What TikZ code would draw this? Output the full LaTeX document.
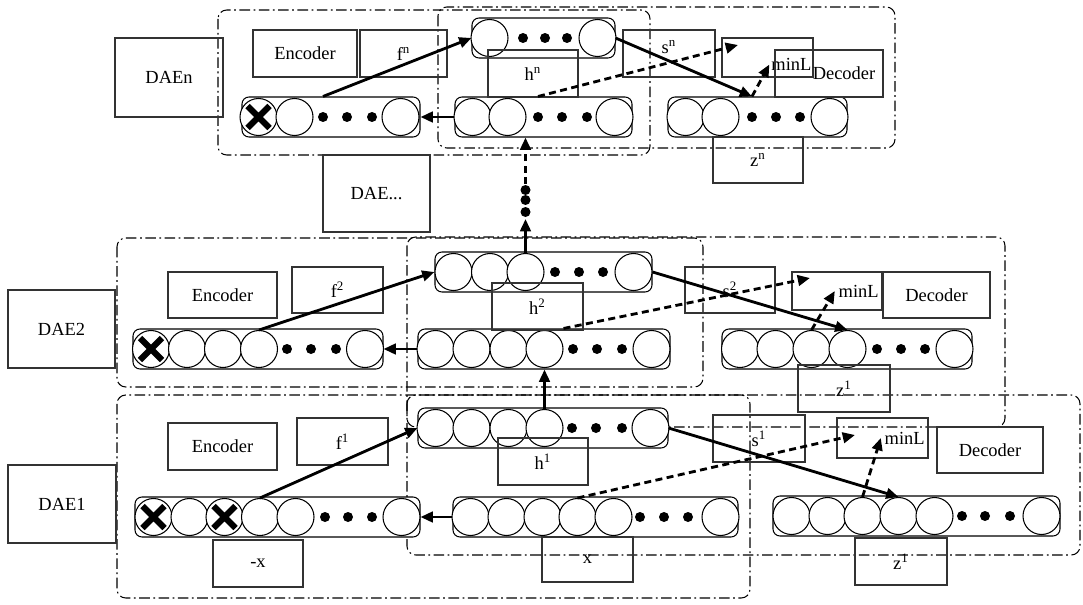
\documentclass[tikz,border=0pt]{standalone}
\usepackage{fontspec}
\setmainfont{Liberation Serif}
\usetikzlibrary{arrows.meta,fit,calc}

% one layer of units: name, left, right, centre line, circles, dots
\newcommand{\unitrow}[6]{%
  \node[layer, fit={(#2,#4-20) (#3,#4+20)}] (#1) {};
  \foreach \cx [count=\i] in {#5} \node[unit] (#1-\i) at (\cx,#4) {};
  \foreach \dx [count=\i] in {#6} \node[dotu] (#1-d\i) at (\dx,#4) {};
}
% text box: name, left, top, right, bottom, text
\newcommand{\tagbox}[6]{%
  \node[lbl, minimum width={(#4-#2)*0.02cm}, minimum height={(#5-#3)*0.02cm}]
    (#1) at ({(#2+#4)/2},{(#3+#5)/2}) {#6};
}

\begin{document}
\begin{tikzpicture}[x=0.02cm,y=-0.02cm,
  font=\fontsize{10.5}{12}\selectfont,
  stage/.style={line width=0.6pt, dash pattern=on 6pt off 2pt on 1pt off 2pt, rounded corners=5pt},
  lbl/.style={draw=black!80, line width=0.6pt, inner sep=0pt},
  layer/.style={draw, fill=white, line width=0.6pt, rounded corners=4pt, inner sep=0pt},
  unit/.style={circle, draw, fill=white, line width=0.6pt, minimum size=0.74cm, inner sep=0pt},
  dotu/.style={circle, fill, minimum size=0.2cm, inner sep=0pt},
  cross/.style={line width=3.5pt},
  flow/.style={-{Triangle[length=7pt,width=6pt]}, line width=1.6pt},
  cost/.style={flow, dash pattern=on 4pt off 2.5pt}]
  \useasboundingbox (0,0) rectangle (1083,605);

  % stages
  \draw[stage] (218,10) rectangle (650,155);
  \draw[stage] (438,7) rectangle (895,148);
  \draw[stage] (117,238) rectangle (703,387);
  \draw[stage] (407,237) rectangle (1005,427);
  \draw[stage] (117,395) rectangle (750,598);
  \draw[stage] (407,395) rectangle (1080,555);

  % layers
  \unitrow{rnTop}{472}{615}{38}{489.5,597.5}{523,545,567}
  \unitrow{rnCor}{242}{420}{117}{258.5,294.5,400.5}{323,347,372}
  \unitrow{rnIn}{455}{632}{117}{472.5,507.5,614.5}{538,562,587}
  \unitrow{rnOut}{668}{847}{117}{685.5,720.5,829.5}{752,776,800}
  \unitrow{r2Top}{435}{652}{272}{453.5,490,525.5,633.5}{555,579,603}
  \unitrow{r2Cor}{133}{383}{349}{151,187,223,259,365}{287,311,336}
  \unitrow{r2In}{418}{670}{349}{435.5,471.5,508.5,544.5,651.5}{573,597,622}
  \unitrow{r2Out}{722}{972}{349}{740,775.5,811.5,847.5,954.5}{877,901,925}
  \unitrow{r1Top}{418}{668}{428}{435.5,471.5,508.5,544.5,650.5}{572,596,622}
  \unitrow{r1Cor}{135}{420}{517}{153.5,189.5,224.5,260,295.5,401.5}{325,348,372}
  \unitrow{r1In}{453}{738}{517}{470.5,506.5,542.5,577.5,613.5,720.5}{640,664,688}
  \unitrow{r1Out}{773}{1060}{516}{791.5,827.5,862.5,898.5,934.5,1041.5}{962,985,1010}
  \foreach \c in {rnCor-1,r2Cor-1,r1Cor-1,r1Cor-3}
    \draw[cross] ($(\c)+(-11,-11)$) -- ($(\c)+(11,11)$) ($(\c)+(-11,11)$) -- ($(\c)+(11,-11)$);

  % level n
  \tagbox{daeN}{115}{38}{223}{117}{DAEn}
  \tagbox{encN}{253}{30}{357}{77}{Encoder}
  \tagbox{fN}{360}{30}{447}{77}{f\textsuperscript{n}}
  \tagbox{hN}{488}{50}{578}{97}{h\textsuperscript{n}}
  \tagbox{sN}{623}{30}{715}{77}{s\textsuperscript{n}\rule[-8pt]{0pt}{0pt}}
  \tagbox{lossBoxN}{722}{38}{813}{77}{}
  \node[anchor=east, inner sep=1pt, yshift=-4pt] (lossN) at (lossBoxN.east) {minL};
  \tagbox{decN}{775}{50}{883}{97}{\hspace*{0.6cm}Decoder}
  \tagbox{zN}{713}{137}{803}{183}{z\textsuperscript{n}}
  \tagbox{daeDots}{323}{155}{430}{232}{DAE...}

  % level 2
  \tagbox{dae2}{8}{290}{115}{368}{DAE2}
  \tagbox{enc2}{168}{272}{277}{318}{Encoder}
  \tagbox{f2}{292}{267}{383}{313}{f\textsuperscript{2}}
  \tagbox{h2}{492}{283}{583}{330}{h\textsuperscript{2}}
  \tagbox{s2}{685}{267}{775}{313}{s\textsuperscript{2}}
  \tagbox{lossBox2}{792}{272}{882}{310}{}
  \node[anchor=east, inner sep=2pt] (loss2) at (lossBox2.east) {minL};
  \tagbox{dec2}{883}{272}{990}{318}{Decoder}
  \tagbox{z2}{798}{365}{890}{412}{z\textsuperscript{1}}

  % level 1
  \tagbox{dae1}{8}{465}{116}{543}{DAE1}
  \tagbox{enc1}{168}{423}{277}{470}{Encoder}
  \tagbox{f1}{297}{418}{388}{465}{f\textsuperscript{1}}
  \tagbox{xc1}{213}{540}{303}{587}{-x}
  \tagbox{h1}{498}{438}{588}{485}{h\textsuperscript{1}}
  \tagbox{x1}{542}{537}{633}{582}{x}
  \tagbox{s1}{713}{415}{805}{462}{s\textsuperscript{1}}
  \tagbox{lossBox1}{837}{418}{928}{458}{}
  \node[anchor=east, inner sep=2pt] (loss1) at (lossBox1.east) {minL};
  \tagbox{dec1}{937}{427}{1043}{473}{Decoder}
  \tagbox{z1}{855}{538}{947}{585}{z\textsuperscript{1}}

  \coordinate (tipN) at (738,45);
  \coordinate (tip2) at (810,278);
  \coordinate (tip1) at (855,435);

  \draw[flow] (rnIn.west) -- (rnCor.east);
  \draw[flow] (rnCor.north -| rnCor-d1) -- (rnTop.west);
  \draw[flow] (rnTop.east) -- (rnOut.north -| rnOut-d1);
  \draw[cost] (rnIn.north -| rnIn-d1) -- (tipN);
  \draw[cost] (rnOut.north -| rnOut-d1) -- (lossN.west);

  \draw[flow] (r2In.west) -- (r2Cor.east);
  \draw[flow] (r2Cor-4.north) -- (r2Top.west);
  \draw[flow] (r2Top.east) -- (r2Out-4.north);
  \draw[cost] (r2In.north -| r2In-4.east) -- (tip2);
  \draw[cost] (r2Out-3.north) -- (loss2.west);

  \draw[flow] (r1In.west) -- (r1Cor.east);
  \draw[flow] (r1Cor-4.north) -- (r1Top.west);
  \draw[flow] (r1Top.east) -- (r1Out-4.north);
  \draw[cost] (r1In-4.north) -- (tip1);
  \draw[cost] (r1Out-3.north) -- (loss1.west);

  % stacking
  \draw[flow] (r1Top-4.north) -- (r2In.south -| r1Top-4);
  \coordinate (upA) at (525.5,219);
  \coordinate (upB) at (525.5,184);
  \draw[flow] (r2Top-3.north) -- (upA);
  \foreach \y [count=\i] in {212,200,190} \node[dotu] (upDot\i) at (525.5,\y) {};
  \draw[cost] (upB) -- (rnIn.south -| upB);
\end{tikzpicture}
\end{document}
